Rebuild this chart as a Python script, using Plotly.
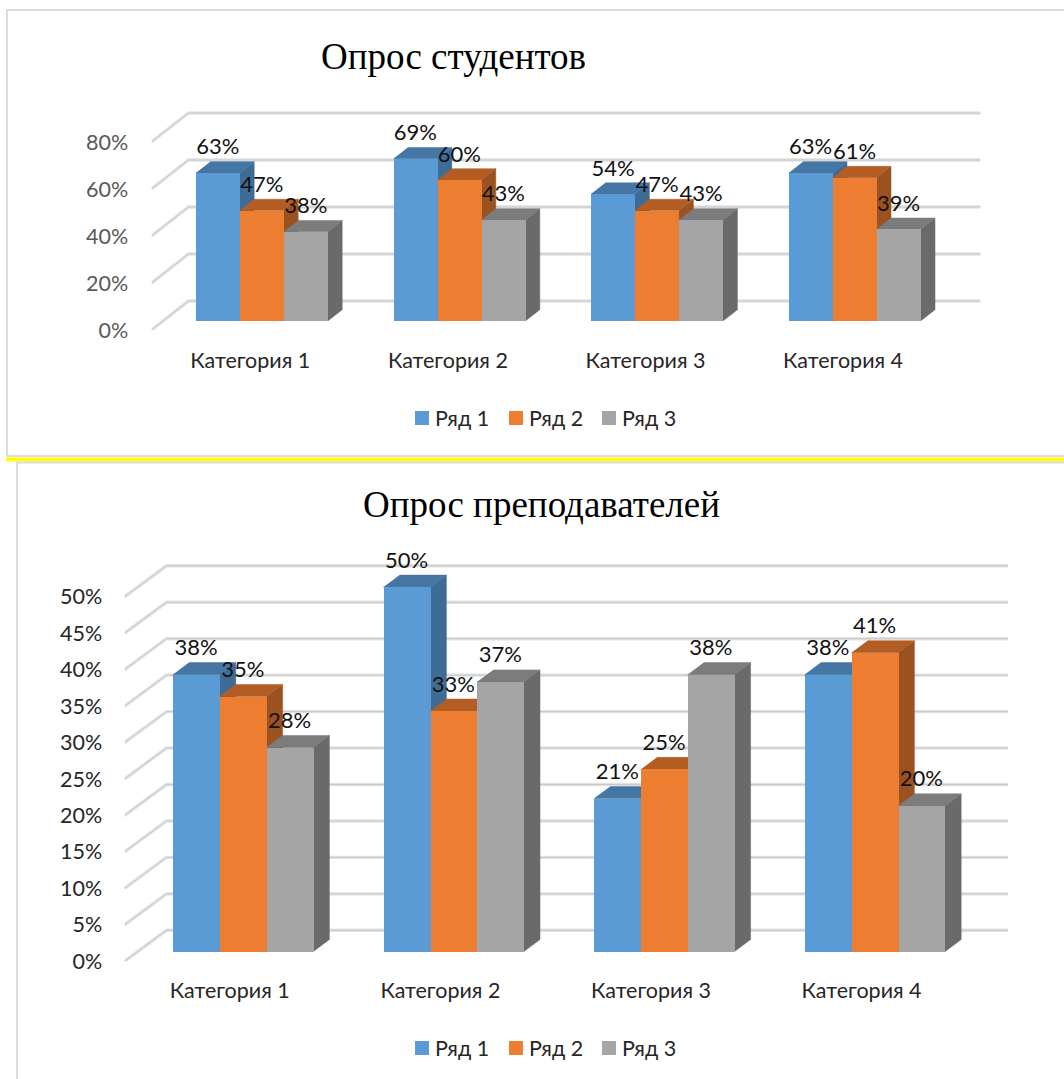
import plotly.graph_objects as go

W, H = 1064, 1079
categories = ["Категория 1", "Категория 2", "Категория 3", "Категория 4"]
series_names = ["Ряд 1", "Ряд 2", "Ряд 3"]
students_1 = [63, 69, 54, 63]
students_2 = [47, 60, 47, 61]
students_3 = [38, 43, 43, 39]
teachers_1 = [38, 50, 21, 38]
teachers_2 = [35, 33, 25, 41]
teachers_3 = [28, 37, 38, 20]
students_ticks = [0, 20, 40, 60, 80]
teachers_ticks = [0, 5, 10, 15, 20, 25, 30, 35, 40, 45, 50]

FRONT = ["#5B9BD5", "#ED7D31", "#A5A5A5"]
SIDE = ["#3F6C94", "#9A5320", "#6A6A6A"]
TOP = ["#4676A3", "#B35D24", "#7C7C7C"]
FONT = "Lato, 'Noto Sans', sans-serif"
Z0, Z1 = 0.31, 0.70

fig = go.Figure()


def chart(suffix, series, ticks, left, right_back, base_px, top_px, cat_w, bar_w, px_per, dxp, dyp,
          label_off, tick_color, standoff, cat_len):
    xa, ya = "x" + suffix, "y" + suffix
    Dx, Dy = dxp / cat_w, dyp / px_per
    w = bar_w / cat_w
    gx, gy = [], []
    xend = -0.5 + (right_back - left) / cat_w
    for t in ticks:
        gx += [-0.5, -0.5 + Dx, xend, None]
        gy += [t, t + Dy, t + Dy, None]
    for col, lw in (("#E2E2E2", 3.4), ("#C8C8C8", 1.0)):
        fig.add_trace(go.Scatter(x=gx, y=gy, mode="lines", xaxis=xa, yaxis=ya, cliponaxis=False,
                                 line=dict(color=col, width=lw), showlegend=False, hoverinfo="skip", zorder=0))
    for s, vals in enumerate(series):
        sx, sy, tx, ty = [], [], [], []
        lx, ly = [], []
        fx = []
        for i, v in enumerate(vals):
            c = i + (s - 1) * w + Z0 * Dx
            fx.append(c)
            xl, xr = c - w / 2, c + w / 2
            d = (Z1 - Z0) * Dx
            b0, b1 = Z0 * Dy, Z1 * Dy
            sx += [xr, xr + d, xr + d, xr, None]
            sy += [b0, b1, b1 + v, b0 + v, None]
            tx += [xl, xr, xr + d, xl + d, None]
            ty += [b0 + v, b0 + v, b1 + v, b1 + v, None]
            lx.append(c)
            ly.append(b0 + v + label_off / px_per)
        for px_, py_, col in ((sx, sy, SIDE[s]), (tx, ty, TOP[s])):
            fig.add_trace(go.Scatter(x=px_, y=py_, mode="lines", fill="toself", fillcolor=col, xaxis=xa, yaxis=ya,
                                     line=dict(color=col, width=0.5), showlegend=False, hoverinfo="skip",
                                     cliponaxis=False, zorder=1 + 2 * s))
        fig.add_trace(go.Bar(x=fx, y=vals, base=[Z0 * Dy] * len(vals), width=w, name=series_names[s], xaxis=xa, yaxis=ya,
                             marker=dict(color=FRONT[s], line=dict(width=0)), showlegend=False, zorder=2 + 2 * s,
                             hoverinfo="skip"))
        fig.add_trace(go.Scatter(x=lx, y=ly, mode="text", text=[f"{v}%" for v in vals], textposition="middle center",
                                 textfont=dict(family=FONT, size=22, color="#111111"), xaxis=xa, yaxis=ya,
                                 showlegend=False, hoverinfo="skip", cliponaxis=False, zorder=20))
    front_px = base_px + Z0 * dyp
    return dict(
        x=dict(domain=[left / W, right_back / W], range=[-0.5, xend], tickmode="array",
               tickvals=list(range(len(categories))), ticktext=categories, showgrid=False, zeroline=False,
               showline=False, ticks="outside", ticklen=cat_len, tickcolor="rgba(0,0,0,0)", automargin=False,
               tickfont=dict(family=FONT, size=21.5, color="#262626"), anchor=ya),
        y=dict(domain=[1 - front_px / H, 1 - top_px / H], range=[0, (front_px - top_px) / px_per], tickmode="array",
               tickvals=ticks, ticktext=[f"{t}%" for t in ticks], showgrid=False, zeroline=False, showline=False,
               ticks="outside", ticklen=standoff, tickcolor="rgba(0,0,0,0)", automargin=False,
               tickfont=dict(family=FONT, size=21.5, color=tick_color), anchor=xa),
    )


a = chart("", [students_1, students_2, students_3], students_ticks, 151.5, 980.6, 321, 100, 197.6, 44, 2.35, 37, 29,
          24, "#595959", 18, 11)
b = chart("2", [teachers_1, teachers_2, teachers_3], teachers_ticks, 124.5, 1008, 951.7, 530, 210.6, 46.8, 7.29, 42, 31,
          25, "#262626", 17, 10)

grey = "#DCDCDC"


def hline(x0, x1, y, col=grey, w=2):
    return dict(type="line", xref="paper", yref="paper", x0=x0 / W, x1=x1 / W, y0=1 - y / H, y1=1 - y / H,
                line=dict(color=col, width=w), layer="below")


def vline(x, y0, y1, col=grey, w=2):
    return dict(type="line", xref="paper", yref="paper", x0=x / W, x1=x / W, y0=1 - y0 / H, y1=1 - y1 / H,
                line=dict(color=col, width=w), layer="below")


shapes = [hline(6, W, 10), vline(7, 10, 456), hline(6, W, 456), hline(6, W, 459.5, "#FFFF00", 4),
          hline(16, W, 462.5), vline(17, 462, H)]

titles = [("Опрос студентов", 453, 57), ("Опрос преподавателей", 541, 505)]
anns = [dict(text=t, x=x / W, y=1 - y / H, xref="paper", yref="paper", xanchor="center", yanchor="middle",
             showarrow=False, font=dict(family="'Liberation Serif', serif", size=37, color="#000000"))
        for t, x, y in titles]

for yc in (418, 1048):
    for name, col, x0, xt in zip(series_names, FRONT, (415, 509, 602), (435, 529, 622)):
        shapes.append(dict(type="rect", xref="paper", yref="paper", x0=x0 / W, x1=(x0 + 14) / W,
                           y0=1 - (yc + 7) / H, y1=1 - (yc - 7) / H, fillcolor=col, line=dict(width=0)))
        anns.append(dict(text=name, x=xt / W, y=1 - yc / H, xref="paper", yref="paper", xanchor="left",
                         yanchor="middle", showarrow=False, xshift=-2,
                         font=dict(family=FONT, size=21.5, color="#262626")))

fig.update_layout(width=W, height=H, margin=dict(l=0, r=0, t=0, b=0, autoexpand=False), paper_bgcolor="white",
                  plot_bgcolor="rgba(0,0,0,0)", barmode="overlay", bargap=0, xaxis=a["x"], yaxis=a["y"],
                  xaxis2=b["x"], yaxis2=b["y"], shapes=shapes, annotations=anns, showlegend=False)
fig.write_html("out.html", config=dict(displayModeBar=False), default_width=W, default_height=H,
               post_script="document.body.style.margin='0';document.documentElement.style.overflow='hidden';")
